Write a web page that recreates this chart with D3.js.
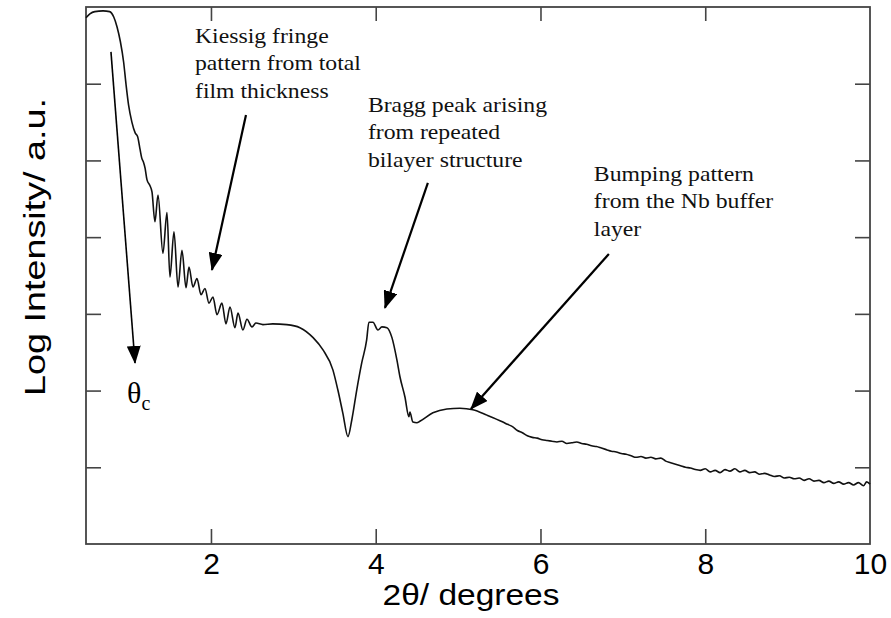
<!DOCTYPE html>
<html><head><meta charset="utf-8">
<script src="https://cdn.jsdelivr.net/npm/d3@7"></script>
<style>body{margin:0;background:#fff}</style>
</head><body>
<svg id="c" width="891" height="618"></svg>
<script>
// ---- data ----
const twoTheta = [0.483,0.53,0.59,0.69,0.77,0.82,0.86,0.90,0.94,0.97,1.00,1.04,1.08,1.11,1.14,1.16,1.18,1.20,
 1.223,1.26,1.284,1.32,1.357,1.417,1.466,1.502,1.551,1.600,1.648,1.697,1.733,1.782,1.830,1.879,1.927,1.976,2.024,
 2.073,2.133,2.182,2.231,2.291,2.328,2.388,2.437,2.498,2.546,2.63,2.75,2.92,3.08,3.24,3.36,3.48,3.54,3.60,3.663,
 3.71,3.77,3.83,3.89,3.917,3.966,4.027,4.075,4.136,4.197,4.257,4.294,4.354,4.403,4.415,4.451,4.50,4.536,4.694,
 4.864,5.022,5.18,5.35,5.544,
 5.60,5.66,5.72,5.78,5.84,5.90,5.96,6.02,6.08,6.14,6.20,6.26,6.32,6.38,6.44,6.50,6.56,6.62,6.68,6.74,6.80,6.86,
 6.92,6.98,7.04,7.10,7.16,7.22,7.28,7.34,7.40,7.46,7.52,7.58,7.64,7.70,7.76,7.82,7.88,7.94,8.00,8.06,8.12,8.18,
 8.24,8.30,8.36,8.42,8.48,8.54,8.60,8.66,8.72,8.78,8.84,8.90,8.96,9.02,9.08,9.14,9.20,9.26,9.32,9.38,9.44,9.50,
 9.56,9.62,9.68,9.74,9.80,9.86,9.92,9.96,10.0];
const logIntensity = [6.86,6.91,6.94,6.95,6.94,6.87,6.74,6.55,6.28,5.98,5.72,5.50,5.36,5.31,5.14,5.03,4.98,4.90,
 4.75,4.67,4.59,4.20,4.55,3.79,4.32,3.48,4.07,3.35,3.83,3.34,3.61,3.35,3.46,3.25,3.33,3.14,3.22,
 2.99,3.14,2.87,3.09,2.82,3.01,2.79,2.93,2.83,2.88,2.86,2.87,2.86,2.82,2.69,2.53,2.27,2.01,1.71,1.40,
 1.62,2.01,2.36,2.66,2.89,2.89,2.79,2.83,2.82,2.69,2.40,2.18,1.92,1.66,1.72,1.59,1.58,1.60,1.71,
 1.76,1.77,1.75,1.68,1.59,
 1.56,1.53,1.48,1.45,1.41,1.39,1.38,1.36,1.35,1.34,1.33,1.34,1.31,1.32,1.33,1.31,1.30,1.28,1.27,1.25,1.23,1.21,
 1.20,1.18,1.17,1.15,1.13,1.14,1.12,1.13,1.11,1.12,1.08,1.06,1.04,1.02,1.00,0.99,0.97,0.96,0.98,0.94,0.96,0.93,
 0.97,0.95,0.98,0.94,0.96,0.93,0.94,0.91,0.92,0.90,0.88,0.89,0.86,0.87,0.85,0.86,0.83,0.85,0.82,0.83,0.80,0.82,
 0.79,0.81,0.78,0.80,0.77,0.80,0.76,0.81,0.78];
const xTickValues = [2,4,6,8,10];
const yTickValues = [1,2,3,4,5,6];
const xAxisTitle = "2θ/ degrees";
const yAxisTitle = "Log Intensity/ a.u.";
const noteTexts = [
  ["Kiessig fringe","pattern from total","film thickness"],
  ["Bragg peak arising","from repeated","bilayer structure"],
  ["Bumping pattern","from the Nb buffer","layer"]
];
const noteX = [1.806, 3.905, 6.648];
const noteY = [6.532, 5.632, 4.733];
// arrows: from (x1,y1) to tip (x2,y2) in data units
const arrowX1 = [0.786, 2.425, 4.633, 6.830];
const arrowY1 = [6.415, 5.593, 4.707, 3.781];
const arrowX2 = [1.078, 2.012, 4.112, 5.155];
const arrowY2 = [2.360, 3.572, 3.077, 1.760];
const thetaCX = 0.981, thetaCY = 1.838;

// ---- layout ----
const svg = d3.select("#c");
const L=86, R=870, T=7, B=544;
const x = d3.scaleLinear().domain([0.483,10]).range([L,R]);
const y = d3.scaleLinear().domain([0,7]).range([B,T]);
const sans = "'Liberation Sans', Arial, Helvetica, sans-serif";
const serif = "'Liberation Serif', 'Times New Roman', serif";

// ticks
const gB = svg.append("g").attr("transform",`translate(0,${B})`)
  .call(d3.axisBottom(x).tickValues(xTickValues).tickSize(-15).tickSizeOuter(0).tickPadding(9));
gB.selectAll("text").attr("font-family",sans).attr("font-size",30).attr("fill","#000");
gB.selectAll(".tick").filter(d=>d===10).select("line").remove();
const gT = svg.append("g").attr("transform",`translate(0,${T})`)
  .call(d3.axisTop(x).tickValues(xTickValues.filter(v=>v<10)).tickSize(-14).tickSizeOuter(0).tickFormat(""));
const gLft = svg.append("g").attr("transform",`translate(${L},0)`)
  .call(d3.axisLeft(y).tickValues(yTickValues).tickSize(-15).tickSizeOuter(0).tickFormat(""));
const gRt = svg.append("g").attr("transform",`translate(${R},0)`)
  .call(d3.axisRight(y).tickValues(yTickValues).tickSize(-15).tickSizeOuter(0).tickFormat(""));
[gB,gT,gLft,gRt].forEach(g=>{
  g.select(".domain").remove();
  g.selectAll("line").attr("stroke","#444").attr("stroke-width",1.6);
});
// frame
svg.append("rect").attr("x",L).attr("y",T).attr("width",R-L).attr("height",B-T)
  .attr("fill","none").attr("stroke","#444").attr("stroke-width",1.8);

// curve
const pts = twoTheta.map((v,i)=>[v,logIntensity[i]]);
svg.append("path").datum(pts)
  .attr("fill","none").attr("stroke","#111").attr("stroke-width",1.6).attr("stroke-linejoin","round")
  .attr("d", d3.line().curve(d3.curveMonotoneX).x(d=>x(d[0])).y(d=>y(d[1])));

// axis titles
svg.append("text").attr("x",471).attr("y",605).attr("text-anchor","middle")
  .attr("font-family",sans).attr("font-size",30)
  .attr("textLength",177).attr("lengthAdjust","spacingAndGlyphs").text(xAxisTitle);
svg.append("text").attr("transform",`translate(45,247) rotate(-90)`).attr("text-anchor","middle")
  .attr("font-family",sans).attr("font-size",30)
  .attr("textLength",298).attr("lengthAdjust","spacingAndGlyphs").text(yAxisTitle);

// arrow markers
const defs = svg.append("defs");
defs.append("marker").attr("id","ah").attr("markerUnits","userSpaceOnUse")
  .attr("viewBox","0 0 18 14").attr("refX",17).attr("refY",7).attr("markerWidth",18).attr("markerHeight",14)
  .attr("orient","auto").append("path").attr("d","M0,0 L18,7 L0,14 Z").attr("fill","#000");
arrowX1.forEach((v,i)=>{
  svg.append("line").attr("x1",x(v)).attr("y1",y(arrowY1[i])).attr("x2",x(arrowX2[i])).attr("y2",y(arrowY2[i]))
    .attr("stroke","#000").attr("stroke-width", i===0?1.6:2.2).attr("marker-end","url(#ah)");
});

// annotations
noteTexts.forEach((lines,i)=>{
  const g = svg.append("g").attr("transform",`translate(${x(noteX[i])},${y(noteY[i])}) scale(1.13,1)`);
  const t = g.append("text").attr("font-family",serif).attr("font-size",21).attr("fill","#111");
  lines.forEach((s,j)=>{
    t.append("tspan").attr("x",0).attr("y",j*27.5).text(s);
  });
});
const tc = svg.append("text").attr("x",x(thetaCX)).attr("y",y(thetaCY)).attr("font-family",serif).attr("font-size",30);
tc.append("tspan").text("θ");
tc.append("tspan").attr("font-size",20).attr("dy",7).text("c");
</script>
</body></html>
